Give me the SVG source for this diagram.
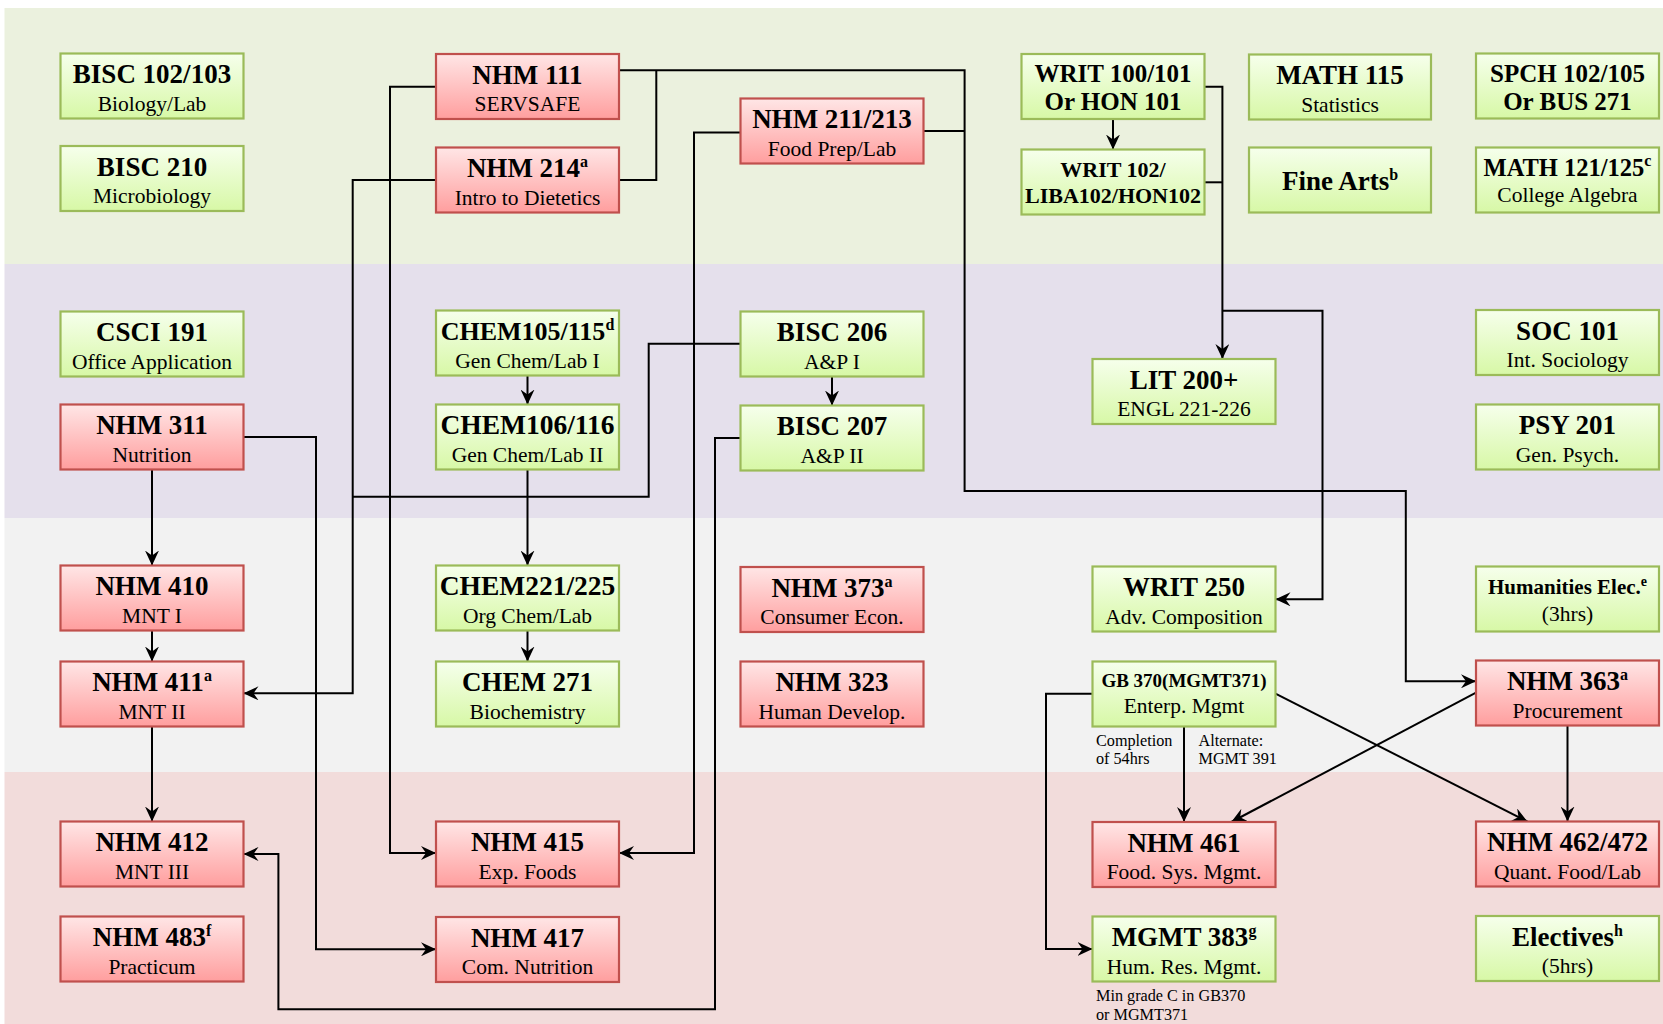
<svg xmlns="http://www.w3.org/2000/svg" width="1663" height="1024" viewBox="0 0 1663 1024">
<defs>
<linearGradient id="gg" x1="0" y1="0" x2="0" y2="1">
<stop offset="0" stop-color="#f6ffec"/><stop offset="1" stop-color="#d7f8a6"/>
</linearGradient>
<linearGradient id="rg" x1="0" y1="0" x2="0" y2="1">
<stop offset="0" stop-color="#ffe6e6"/><stop offset="1" stop-color="#ff9e9e"/>
</linearGradient>
<marker id="ah" markerWidth="15" markerHeight="14" refX="15" refY="7" orient="auto" markerUnits="userSpaceOnUse">
<path d="M0,0 L15,7 L0,14 L5,7 z" fill="#000"/>
</marker>
<style>
.g rect{fill:url(#gg);stroke:#9bbb59;stroke-width:2.2}
.r rect{fill:url(#rg);stroke:#c0504d;stroke-width:2.2}
text{font-family:"Liberation Serif","DejaVu Serif",serif;fill:#000}
.t{font-weight:bold;font-size:27px;text-anchor:middle}
.s{font-size:21.5px;text-anchor:middle}
.n{font-size:16.2px}
.sup{font-size:16px}
.c path{fill:none;stroke:#000;stroke-width:2}
.c .a{marker-end:url(#ah)}
</style>
</defs>
<g id="bands">
<rect x="4.5" y="8" width="1658.5" height="256" fill="#ebf1de"/>
<rect x="4.5" y="264" width="1658.5" height="254" fill="#e5e0ec"/>
<rect x="4.5" y="518" width="1658.5" height="254" fill="#f2f2f2"/>
<rect x="4.5" y="772" width="1658.5" height="252" fill="#f2dcdb"/>
</g>
<g class="c" id="connectors">
<path class="a" d="M436,86.7 H390 V853 H436"/>
<path class="a" d="M436,180 H352.7 V693.3 H243.5"/>
<path d="M740.5,343.7 H648.7 V496.7 H352.7"/>
<path class="a" d="M619,70.3 H964.6 V491 H1405.8 V681.3 H1476"/>
<path d="M619,180 H656.3 V70.3"/>
<path d="M923.5,131 H964.6"/>
<path class="a" d="M740.5,132.5 H694 V853 H619"/>
<path class="a" d="M740.5,438 H715 V1009.3 H278.4 V854 H243.5"/>
<path class="a" d="M243.5,437 H316 V949.3 H436"/>
<path class="a" d="M152,469.5 V565.5"/>
<path class="a" d="M152,630.5 V661.5"/>
<path class="a" d="M152,726.5 V821.5"/>
<path class="a" d="M527.5,375.5 V404.5"/>
<path class="a" d="M527.5,469.5 V565.5"/>
<path class="a" d="M527.5,630.5 V661.5"/>
<path class="a" d="M832,376.5 V405.5"/>
<path class="a" d="M1113,119 V149.5"/>
<path class="a" d="M1204.5,86.7 H1222.4 V359"/>
<path d="M1204.5,182.3 H1222.4"/>
<path class="a" d="M1222.4,310.7 H1322.5 V599.3 H1275.5"/>
<path class="a" d="M1092.5,693.7 H1046 V949 H1092.5"/>
<path class="a" d="M1184,726.5 V822"/>
<path class="a" d="M1275.5,693.7 L1527.4,821.5"/>
<path class="a" d="M1476,692.7 L1231.3,822"/>
<path class="a" d="M1567.5,725.5 V821.5"/>
</g>
<g id="n-bisc102" class="g"><rect x="60.5" y="53.5" width="183" height="65"/><text class="t" x="152" y="83">BISC 102/103</text><text class="s" x="152" y="110.5">Biology/Lab</text></g>
<g id="n-bisc210" class="g"><rect x="60.5" y="146" width="183" height="65"/><text class="t" x="152" y="175.5">BISC 210</text><text class="s" x="152" y="203">Microbiology</text></g>
<g id="n-csci191" class="g"><rect x="60.5" y="311.5" width="183" height="65"/><text class="t" x="152" y="341">CSCI 191</text><text class="s" x="152" y="368.5">Office Application</text></g>
<g id="n-nhm311" class="r"><rect x="60.5" y="404.5" width="183" height="65"/><text class="t" x="152" y="434">NHM 311</text><text class="s" x="152" y="461.5">Nutrition</text></g>
<g id="n-nhm410" class="r"><rect x="60.5" y="565.5" width="183" height="65"/><text class="t" x="152" y="595">NHM 410</text><text class="s" x="152" y="622.5">MNT I</text></g>
<g id="n-nhm411" class="r"><rect x="60.5" y="661.5" width="183" height="65"/><text class="t" x="152" y="691">NHM 411<tspan class="sup" dy="-10">a</tspan></text><text class="s" x="152" y="718.5">MNT II</text></g>
<g id="n-nhm412" class="r"><rect x="60.5" y="821.5" width="183" height="65"/><text class="t" x="152" y="851">NHM 412</text><text class="s" x="152" y="878.5">MNT III</text></g>
<g id="n-nhm483" class="r"><rect x="60.5" y="916.5" width="183" height="65"/><text class="t" x="152" y="946">NHM 483<tspan class="sup" dy="-10">f</tspan></text><text class="s" x="152" y="973.5">Practicum</text></g>
<g id="n-nhm111" class="r"><rect x="436" y="54" width="183" height="65"/><text class="t" x="527.5" y="83.5">NHM 111</text><text class="s" x="527.5" y="111">SERVSAFE</text></g>
<g id="n-nhm214" class="r"><rect x="436" y="147.5" width="183" height="65"/><text class="t" x="527.5" y="177">NHM 214<tspan class="sup" dy="-10">a</tspan></text><text class="s" x="527.5" y="204.5">Intro to Dietetics</text></g>
<g id="n-chem105" class="g"><rect x="436" y="310.5" width="183" height="65"/><text class="t" x="527.5" y="340" style="font-size:26px">CHEM105/115<tspan class="sup" dy="-10">d</tspan></text><text class="s" x="527.5" y="367.5">Gen Chem/Lab I</text></g>
<g id="n-chem106" class="g"><rect x="436" y="404.5" width="183" height="65"/><text class="t" x="527.5" y="434" style="font-size:27.5px">CHEM106/116</text><text class="s" x="527.5" y="461.5">Gen Chem/Lab II</text></g>
<g id="n-chem221" class="g"><rect x="436" y="565.5" width="183" height="65"/><text class="t" x="527.5" y="595" style="font-size:27.5px">CHEM221/225</text><text class="s" x="527.5" y="622.5">Org Chem/Lab</text></g>
<g id="n-chem271" class="g"><rect x="436" y="661.5" width="183" height="65"/><text class="t" x="527.5" y="691">CHEM 271</text><text class="s" x="527.5" y="718.5">Biochemistry</text></g>
<g id="n-nhm415" class="r"><rect x="436" y="821.5" width="183" height="65"/><text class="t" x="527.5" y="851">NHM 415</text><text class="s" x="527.5" y="878.5">Exp. Foods</text></g>
<g id="n-nhm417" class="r"><rect x="436" y="917" width="183" height="65"/><text class="t" x="527.5" y="946.5">NHM 417</text><text class="s" x="527.5" y="974">Com. Nutrition</text></g>
<g id="n-nhm211" class="r"><rect x="740.5" y="98.5" width="183" height="65"/><text class="t" x="832" y="128">NHM 211/213</text><text class="s" x="832" y="155.5">Food Prep/Lab</text></g>
<g id="n-bisc206" class="g"><rect x="740.5" y="311.5" width="183" height="65"/><text class="t" x="832" y="341">BISC 206</text><text class="s" x="832" y="368.5">A&amp;P I</text></g>
<g id="n-bisc207" class="g"><rect x="740.5" y="405.5" width="183" height="65"/><text class="t" x="832" y="435">BISC 207</text><text class="s" x="832" y="462.5">A&amp;P II</text></g>
<g id="n-nhm373" class="r"><rect x="740.5" y="567" width="183" height="65"/><text class="t" x="832" y="596.5">NHM 373<tspan class="sup" dy="-10">a</tspan></text><text class="s" x="832" y="624">Consumer Econ.</text></g>
<g id="n-nhm323" class="r"><rect x="740.5" y="661.5" width="183" height="65"/><text class="t" x="832" y="691">NHM 323</text><text class="s" x="832" y="718.5">Human Develop.</text></g>
<g id="n-writ100" class="g"><rect x="1021.5" y="54" width="183" height="65"/><text class="t" x="1113" y="82" style="font-size:25px">WRIT 100/101</text><text class="t" x="1113" y="110" style="font-size:25px">Or HON 101</text></g>
<g id="n-writ102" class="g"><rect x="1021.5" y="149.5" width="183" height="65"/><text class="t" x="1113" y="177" style="font-size:22px">WRIT 102/</text><text class="t" x="1113" y="203" style="font-size:22px">LIBA102/HON102</text></g>
<g id="n-lit200" class="g"><rect x="1092.5" y="359" width="183" height="65"/><text class="t" x="1184" y="388.5">LIT 200+</text><text class="s" x="1184" y="416">ENGL 221-226</text></g>
<g id="n-writ250" class="g"><rect x="1092.5" y="566.5" width="183" height="65"/><text class="t" x="1184" y="596">WRIT 250</text><text class="s" x="1184" y="623.5">Adv. Composition</text></g>
<g id="n-gb370" class="g"><rect x="1092.5" y="661.5" width="183" height="65"/><text class="t" x="1184" y="687" style="font-size:19px">GB 370(MGMT371)</text><text class="s" x="1184" y="712.5">Enterp. Mgmt</text></g>
<g id="n-nhm461" class="r"><rect x="1092.5" y="822" width="183" height="65"/><text class="t" x="1184" y="851.5">NHM 461</text><text class="s" x="1184" y="879">Food. Sys. Mgmt.</text></g>
<g id="n-mgmt383" class="g"><rect x="1092.5" y="916.5" width="183" height="65"/><text class="t" x="1184" y="946">MGMT 383<tspan class="sup" dy="-10">g</tspan></text><text class="s" x="1184" y="973.5">Hum. Res. Mgmt.</text></g>
<g id="n-math115" class="g"><rect x="1249" y="54.5" width="182" height="65"/><text class="t" x="1340" y="84">MATH 115</text><text class="s" x="1340" y="111.5">Statistics</text></g>
<g id="n-finearts" class="g"><rect x="1249" y="147.5" width="182" height="65"/><text class="t" x="1340" y="190">Fine Arts<tspan class="sup" dy="-10">b</tspan></text></g>
<g id="n-spch" class="g"><rect x="1476" y="53.5" width="183" height="65"/><text class="t" x="1567.5" y="82" style="font-size:25px">SPCH 102/105</text><text class="t" x="1567.5" y="110" style="font-size:25px">Or BUS 271</text></g>
<g id="n-math121" class="g"><rect x="1476" y="147.5" width="183" height="65"/><text class="t" x="1567.5" y="175.5" style="font-size:24.5px">MATH 121/125<tspan class="sup" dy="-10">c</tspan></text><text class="s" x="1567.5" y="202">College Algebra</text></g>
<g id="n-soc101" class="g"><rect x="1476" y="310" width="183" height="65"/><text class="t" x="1567.5" y="339.5">SOC 101</text><text class="s" x="1567.5" y="367">Int. Sociology</text></g>
<g id="n-psy201" class="g"><rect x="1476" y="404.5" width="183" height="65"/><text class="t" x="1567.5" y="434">PSY 201</text><text class="s" x="1567.5" y="461.5">Gen. Psych.</text></g>
<g id="n-hum" class="g"><rect x="1476" y="566.5" width="183" height="65"/><text class="t" x="1567.5" y="593.5" style="font-size:21px">Humanities Elec.<tspan class="sup" style="font-size:14px" dy="-8">e</tspan></text><text class="s" x="1567.5" y="620.5">(3hrs)</text></g>
<g id="n-nhm363" class="r"><rect x="1476" y="660.5" width="183" height="65"/><text class="t" x="1567.5" y="690">NHM 363<tspan class="sup" dy="-10">a</tspan></text><text class="s" x="1567.5" y="717.5">Procurement</text></g>
<g id="n-nhm462" class="r"><rect x="1476" y="821.5" width="183" height="65"/><text class="t" x="1567.5" y="851">NHM 462/472</text><text class="s" x="1567.5" y="878.5">Quant. Food/Lab</text></g>
<g id="n-electives" class="g"><rect x="1476" y="916" width="183" height="65"/><text class="t" x="1567.5" y="945.5">Electives<tspan class="sup" dy="-10">h</tspan></text><text class="s" x="1567.5" y="973">(5hrs)</text></g>
<g id="notes">
<text class="n" x="1096" y="745.5">Completion</text>
<text class="n" x="1096" y="764">of 54hrs</text>
<text class="n" x="1198.5" y="745.5">Alternate:</text>
<text class="n" x="1198.5" y="764">MGMT 391</text>
<text class="n" x="1096" y="1001">Min grade C in GB370</text>
<text class="n" x="1096" y="1019.5">or MGMT371</text>
</g>
</svg>
